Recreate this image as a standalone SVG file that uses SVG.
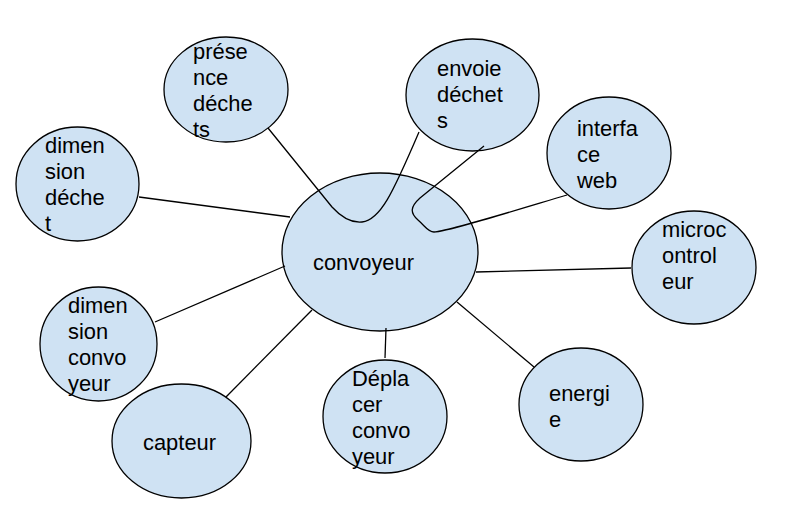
<svg xmlns="http://www.w3.org/2000/svg" width="809" height="517" viewBox="0 0 809 517">
<style>
.n ellipse{fill:#cfe2f3;stroke:#000;stroke-width:1.3}
.n text{font-family:"Liberation Sans",Arial,sans-serif;font-size:21.9px;fill:#000}
#connectors path,#connectors line{fill:none;stroke:#000;stroke-width:1.3}
</style>
<rect width="809" height="517" fill="#fff"/>
<g id="n-convoyeur" class="n"><ellipse cx="380" cy="252" rx="98" ry="79"/><text x="313" y="270">convoyeur</text></g>
<g id="n-presence" class="n"><ellipse cx="226" cy="89.5" rx="62" ry="52.5"/><text x="193" y="59">prése</text><text x="193" y="85">nce</text><text x="193" y="111">déche</text><text x="193" y="137">ts</text></g>
<g id="n-envoie" class="n"><ellipse cx="472.5" cy="95" rx="66.5" ry="56"/><text x="437" y="76">envoie</text><text x="437" y="102">déchet</text><text x="437" y="128">s</text></g>
<g id="n-interface" class="n"><ellipse cx="609" cy="153" rx="62" ry="56"/><text x="577" y="136">interfa</text><text x="577" y="162">ce</text><text x="577" y="188">web</text></g>
<g id="n-micro" class="n"><ellipse cx="694" cy="267.5" rx="62" ry="56.5"/><text x="662" y="237">microc</text><text x="662" y="263">ontrol</text><text x="662" y="289">eur</text></g>
<g id="n-energie" class="n"><ellipse cx="581" cy="404.5" rx="62" ry="56.5"/><text x="549" y="401">energi</text><text x="549" y="427">e</text></g>
<g id="n-dimdechet" class="n"><ellipse cx="77.5" cy="184" rx="61.5" ry="57"/><text x="45" y="153">dimen</text><text x="45" y="179">sion</text><text x="45" y="205">déche</text><text x="45" y="231">t</text></g>
<g id="n-dimconvoyeur" class="n"><ellipse cx="98.5" cy="344" rx="58.5" ry="57"/><text x="68" y="313">dimen</text><text x="68" y="339">sion</text><text x="68" y="365">convo</text><text x="68" y="391">yeur</text></g>
<g id="n-capteur" class="n"><ellipse cx="181.5" cy="441" rx="69.5" ry="57"/><text x="143" y="450">capteur</text></g>
<g id="n-deplacer" class="n"><ellipse cx="385" cy="416.5" rx="62" ry="56.5"/><text x="352" y="386">Dépla</text><text x="352" y="412">cer</text><text x="352" y="438">convo</text><text x="352" y="464">yeur</text></g>
<g id="connectors">
<path d="M268,128 L332,207 C342,218 352,223 362,222 C380,220 392,195 419,132"/>
<path d="M484,146 L420,198 C410,207 410,213 418,220 C425,226 428,232 434,232 C445,232 500,215 567,195"/>
<line x1="139" y1="197" x2="290" y2="217"/>
<line x1="155" y1="322" x2="285" y2="266"/>
<line x1="226" y1="397" x2="312" y2="310"/>
<line x1="385" y1="358" x2="386" y2="328"/>
<line x1="534" y1="367" x2="457" y2="302"/>
<line x1="476" y1="272" x2="631" y2="268"/>
</g>
</svg>
